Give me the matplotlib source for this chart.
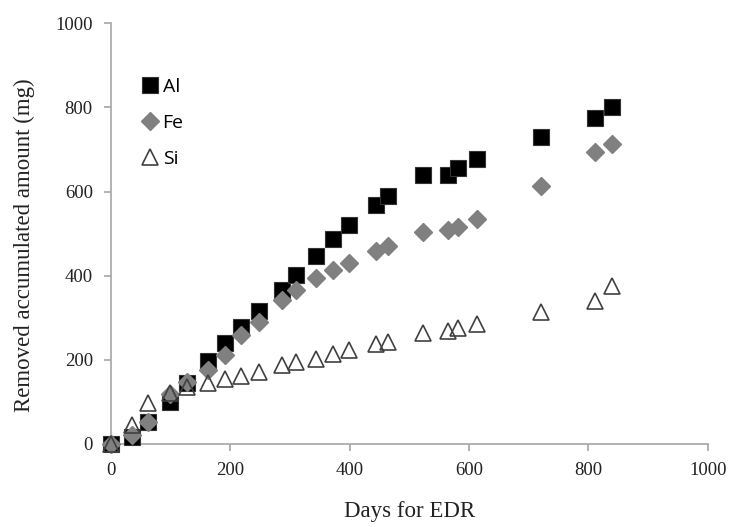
import matplotlib
matplotlib.use("Agg")
import matplotlib.pyplot as plt

days = [0, 36, 62, 99, 127, 163, 191, 218, 248, 286, 311, 344, 372, 399,
        445, 464, 523, 565, 581, 614, 721, 811, 840]
al = [0, 17, 53, 100, 146, 198, 239, 279, 317, 367, 401, 447, 486, 520,
      568, 589, 639, 639, 655, 677, 730, 774, 801]
fe = [0, 21, 53, 120, 148, 177, 211, 259, 290, 342, 367, 394, 413, 431,
      458, 471, 504, 508, 516, 534, 613, 694, 714]
si = [0, 45, 97, 122, 136, 146, 154, 161, 172, 188, 196, 203, 215, 223,
      237, 243, 264, 269, 275, 285, 314, 340, 375]

xticks = [0, 200, 400, 600, 800, 1000]
yticks = [0, 200, 400, 600, 800, 1000]

fig = plt.figure(figsize=(7.29, 5.27), dpi=100)
ax = fig.add_axes([0.152, 0.1575, 0.819, 0.7985])

ax.plot(days, al, linestyle="none", marker="s", markersize=11.5, clip_on=False,
        markerfacecolor="black", markeredgecolor="#333333", markeredgewidth=0.8, label="Al")
ax.plot(days, fe, linestyle="none", marker="D", markersize=9, clip_on=False,
        markerfacecolor="#808080", markeredgecolor="#808080", label="Fe")
ax.plot(days, si, linestyle="none", marker="^", markersize=11, clip_on=False,
        markerfacecolor="none", markeredgecolor="#404040", markeredgewidth=1.2, label="Si")

ax.set_xlim(0, 1000)
ax.set_ylim(0, 1000)
ax.set_xticks(xticks)
ax.set_yticks(yticks)
for s in ["top", "right"]:
    ax.spines[s].set_visible(False)
for s in ["left", "bottom"]:
    ax.spines[s].set_color("#a6a6a6")
    ax.spines[s].set_linewidth(1.2)
    ax.spines[s].set_zorder(0.5)
ax.tick_params(axis="x", direction="out", length=5, color="#a6a6a6", width=1.2, pad=8)
ax.tick_params(axis="y", direction="out", length=5, color="#a6a6a6", width=1.2, pad=8)
for lab in ax.get_xticklabels() + ax.get_yticklabels():
    lab.set_family("Liberation Serif")
    lab.set_fontsize(13.5)
    lab.set_color("#222222")

ax.set_xlabel("Days for EDR", family="Liberation Serif", fontsize=16.5, labelpad=16, color="#222222")
ax.set_ylabel("Removed accumulated amount (mg)", family="Liberation Serif", fontsize=16.5,
              color="#222222")
ax.yaxis.set_label_coords(24 / 729, 1 - 245 / 527, transform=fig.transFigure)
ax.yaxis.label.set_verticalalignment("center")

leg = ax.legend(loc="upper left", bbox_to_anchor=(0.033, 0.888), frameon=False,
                prop={"family": "Open Sans", "size": 14}, handletextpad=0.05,
                labelspacing=0.92, handlelength=1.2, borderaxespad=0)

fig.savefig("out.png", dpi=100)
